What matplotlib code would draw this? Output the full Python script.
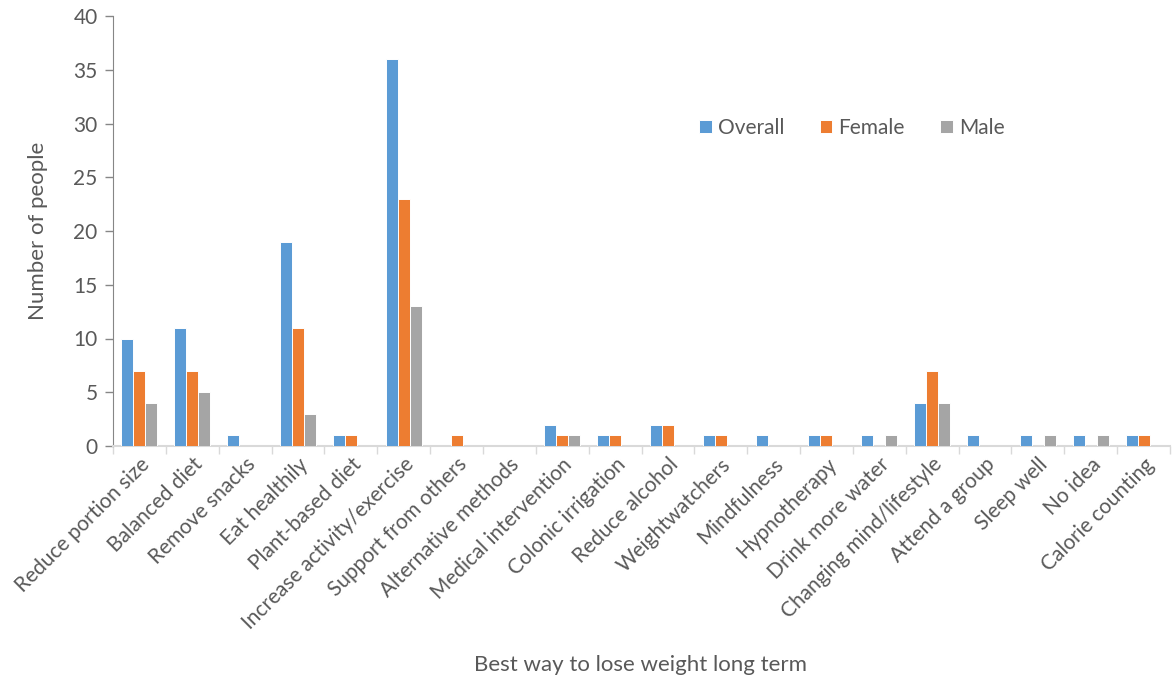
import matplotlib
matplotlib.use("Agg")
import matplotlib.pyplot as plt
import numpy as np

categories = [
    "Reduce portion size", "Balanced diet", "Remove snacks", "Eat healthily",
    "Plant-based diet", "Increase activity/exercise", "Support from others",
    "Alternative methods", "Medical intervention", "Colonic irrigation",
    "Reduce alcohol", "Weightwatchers", "Mindfulness", "Hypnotherapy",
    "Drink more water", "Changing mind/lifestyle", "Attend a group",
    "Sleep well", "No idea", "Calorie counting",
]
overall = [10, 11, 1, 19, 1, 36, 0, 0, 2, 1, 2, 1, 1, 1, 1, 4, 1, 1, 1, 1]
female = [7, 7, 0, 11, 1, 23, 1, 0, 1, 1, 2, 1, 0, 1, 0, 7, 0, 0, 0, 1]
male = [4, 5, 0, 3, 0, 13, 0, 0, 1, 0, 0, 0, 0, 0, 1, 4, 0, 1, 1, 0]
series_names = ["Overall", "Female", "Male"]
colors = ["#5B9BD5", "#ED7D31", "#A5A5A5"]

plt.rcParams["font.family"] = ["Lato", "DejaVu Sans"]
text_color = "#595959"

fig = plt.figure(figsize=(11.73, 6.81), dpi=100)
ax = fig.add_axes([113 / 1173, 1 - 446 / 681, (1170 - 113) / 1173, (446 - 16) / 681])

x = np.arange(len(categories))
w = 0.227
for i, (vals, name, c) in enumerate(zip([overall, female, male], series_names, colors)):
    ax.bar(x + (i - 1) * w, vals, width=w, color=c, edgecolor="white",
           linewidth=0.7, label=name, zorder=3)

ax.set_xlim(-0.5, len(categories) - 0.5)
ax.set_ylim(0, 40)
ax.set_yticks(range(0, 41, 5))
ax.set_xticks(np.arange(-0.5, len(categories), 1), minor=False)
ax.set_xticklabels([])
ax.set_xticks(x, minor=True)
ax.set_xticklabels(categories, minor=True, rotation=45, ha="right",
                   rotation_mode="anchor", fontsize=15, color=text_color)
ax.tick_params(axis="x", which="minor", length=0, pad=6)
ax.tick_params(axis="x", which="major", length=6, color="#D9D9D9", width=1)
ax.tick_params(axis="y", length=6, color="#868686", width=1,
               labelsize=15, labelcolor=text_color, pad=5)

for s in ["top", "right"]:
    ax.spines[s].set_visible(False)
ax.spines["left"].set_color("#868686")
ax.spines["bottom"].set_color("#D9D9D9")
ax.spines["bottom"].set_linewidth(1.5)

ax.set_ylabel("Number of people", fontsize=16, color=text_color, labelpad=18)
fig.text(640 / 1173, 1 - 665 / 681, "Best way to lose weight long term",
         ha="center", va="center", fontsize=16, color=text_color)

leg = ax.legend(loc="center", bbox_to_anchor=((852 - 113) / 1057, (446 - 128) / 430),
                ncol=3, frameon=False, fontsize=15, handlelength=0.6,
                handleheight=0.6, handletextpad=0.3, columnspacing=1.7)
for t in leg.get_texts():
    t.set_color(text_color)

fig.savefig("out.png", dpi=100)
